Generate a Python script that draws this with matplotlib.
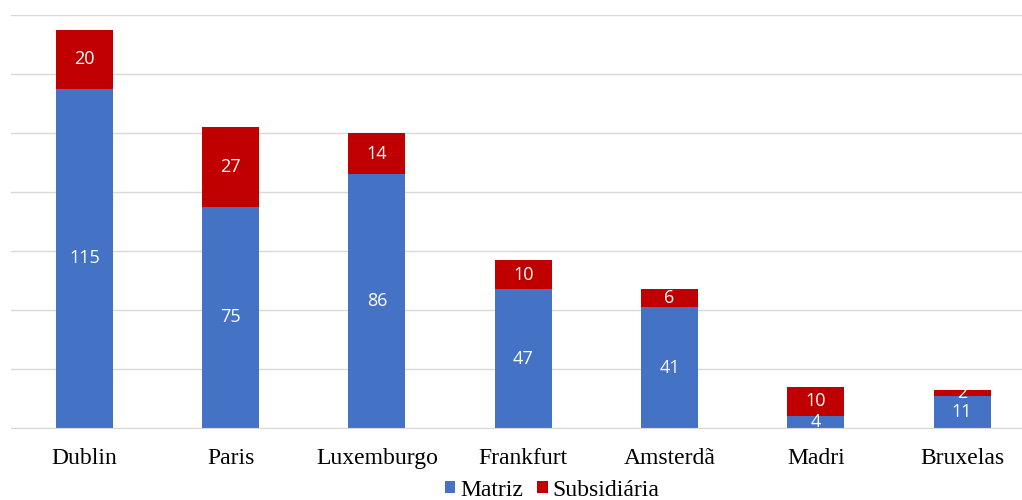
import matplotlib.pyplot as plt
from matplotlib.font_manager import FontProperties
import numpy as np

cidades = ['Dublin', 'Paris', 'Luxemburgo', 'Frankfurt', 'Amsterdã', 'Madri', 'Bruxelas']
matriz = [115, 75, 86, 47, 41, 4, 11]
subsidiaria = [20, 27, 14, 10, 6, 10, 2]

azul = '#4472C4'
vermelho = '#C00000'

fig = plt.figure(figsize=(10.22, 5), dpi=100)
ax = fig.add_axes([0.011, 0.144, 0.989, 0.826])

x = np.arange(len(cidades))
b1 = ax.bar(x, matriz, width=0.39, color=azul, label='Matriz', zorder=2)
b2 = ax.bar(x, subsidiaria, width=0.39, bottom=matriz, color=vermelho,
            label='Subsidiária', zorder=2)

for bars in (b1, b2):
    ax.bar_label(bars, label_type='center', color='white', fontsize=13,
                 family='Open Sans')

ax.set_xlim(-0.5, 6.41)
ax.set_ylim(0, 140)
ax.set_yticks(range(0, 141, 20))
ax.yaxis.grid(True, color='#D9D9D9', linewidth=1, zorder=0)
ax.tick_params(axis='y', left=False, labelleft=False)
ax.tick_params(axis='x', bottom=False, pad=11)
ax.set_xticks(x)
ax.set_xticklabels(cidades, family='Liberation Serif', fontsize=17)
for s in ['top', 'right', 'left']:
    ax.spines[s].set_visible(False)
ax.spines['bottom'].set_color('#D9D9D9')

serif = FontProperties(family='Liberation Serif', size=17)
fig.legend(loc='center', bbox_to_anchor=(0.54, 0.02), ncol=2, frameon=False,
           prop=serif, handlelength=0.45, handleheight=0.45, handletextpad=0.2,
           columnspacing=0.6, borderpad=0)

fig.savefig('out.png', dpi=100)
